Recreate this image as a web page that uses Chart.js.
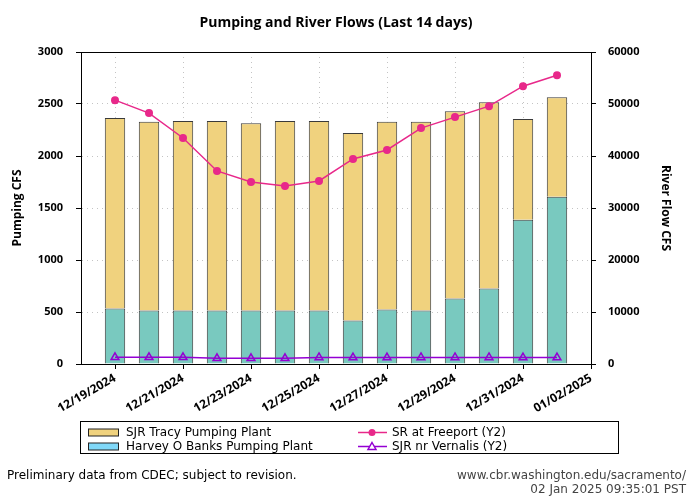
<!DOCTYPE html>
<html>
<head>
<meta charset="utf-8">
<script src="https://cdn.jsdelivr.net/npm/chart.js@4"></script>
<style>
  html, body { margin: 0; padding: 0; background: #fff; }
  #wrap { width: 700px; height: 500px; }
</style>
</head>
<body>
<div id="wrap"><canvas id="chartPump" width="700" height="500"></canvas></div>
<script>
// bar days, 12/19/2024 .. 01/01/2025 (x = day number from 12/18)
const days = [1, 2, 3, 4, 5, 6, 7, 8, 9, 10, 11, 12, 13, 14];
const tickDays = [1, 3, 5, 7, 9, 11, 13, 15];
const tickLabels = ['12/19/2024', '12/21/2024', '12/23/2024', '12/25/2024', '12/27/2024', '12/29/2024', '12/31/2024', '01/02/2025'];

// pumping, CFS
const banks = [534, 514, 514, 514, 514, 514, 514, 419, 524, 514, 630, 725, 1387, 1607];
const tracy = [1831, 1815, 1822, 1822, 1802, 1822, 1822, 1802, 1805, 1815, 1801, 1793, 968, 959];

// river flows, CFS (Y2)
const freeport = [50740, 48250, 43460, 37130, 35020, 34250, 35210, 39430, 41160, 45370, 47480, 49590, 53430, 55540];
const vernalis = [1280, 1290, 1280, 1100, 1090, 1100, 1270, 1250, 1250, 1260, 1260, 1260, 1240, 1240];

(function () {
  const TRACY = '#f0d27e';
  const BANKS = '#79c9bf';
  const BANKS_KEY = '#80d8f8';
  const PINK = '#e8288a';
  const PURPLE = '#9400d3';
  const EDGE = '#3a3a3a';
  const GRID = '#c4c4c4';

  Chart.defaults.font.family = '"Open Sans", sans-serif';
  Chart.defaults.color = '#000';

  const pts = (vals) => vals.map((v, i) => ({ x: days[i], y: v }));
  const plain = (v) => String(v);

  // frame, title, boxed legend and footer notes
  const extras = {
    id: 'extras',
    afterDraw(chart) {
      const ctx = chart.ctx;
      const a = chart.chartArea;
      ctx.save();
      ctx.strokeStyle = '#000';
      ctx.lineWidth = 1;
      ctx.beginPath();
      ctx.moveTo(a.left, Math.round(a.top) + 0.5);
      ctx.lineTo(a.right, Math.round(a.top) + 0.5);
      ctx.stroke();

      ctx.fillStyle = '#000';
      ctx.font = 'bold 14px "Open Sans", sans-serif';
      ctx.textAlign = 'center';
      ctx.textBaseline = 'middle';
      ctx.fillText('Pumping and River Flows (Last 14 days)', (a.left + a.right) / 2, 23);

      // legend box
      ctx.strokeRect(80.5, 421.5, 538, 32);
      ctx.font = '12px "DejaVu Sans", sans-serif';
      ctx.textAlign = 'left';
      const ds = chart.data.datasets;
      const rows = [432.5, 446.5];
      const swatch = (y, fill) => {
        ctx.fillStyle = fill;
        ctx.fillRect(88.5, y - 3.5, 30, 7);
        ctx.strokeStyle = '#222';
        ctx.strokeRect(88.5, y - 3.5, 30, 7);
      };
      swatch(rows[0], TRACY);
      swatch(rows[1], BANKS_KEY);
      ctx.fillStyle = '#000';
      ctx.fillText(ds[1].label, 126, rows[0]);
      ctx.fillText(ds[0].label, 126, rows[1]);

      ctx.lineWidth = 1.5;
      ctx.strokeStyle = PINK;
      ctx.beginPath(); ctx.moveTo(358, rows[0]); ctx.lineTo(387, rows[0]); ctx.stroke();
      ctx.fillStyle = PINK;
      ctx.beginPath(); ctx.arc(372, rows[0], 3.5, 0, Math.PI * 2); ctx.fill();
      ctx.strokeStyle = PURPLE;
      ctx.beginPath(); ctx.moveTo(358, rows[1]); ctx.lineTo(387, rows[1]); ctx.stroke();
      ctx.fillStyle = '#fff';
      ctx.beginPath();
      ctx.moveTo(372, rows[1] - 4); ctx.lineTo(376, rows[1] + 3); ctx.lineTo(368, rows[1] + 3); ctx.closePath();
      ctx.fill(); ctx.stroke();
      ctx.fillStyle = '#000';
      ctx.fillText(ds[2].label, 392, rows[0]);
      ctx.fillText(ds[3].label, 392, rows[1]);

      // footer
      ctx.fillText('Preliminary data from CDEC; subject to revision.', 7, 475.5);
      ctx.textAlign = 'right';
      ctx.fillStyle = '#444';
      ctx.fillText('www.cbr.washington.edu/sacramento/', 686, 475.5);
      ctx.fillText('02 Jan 2025 09:35:01 PST', 686, 489.5);
      ctx.restore();
    }
  };

  new Chart(document.getElementById('chartPump'), {
    data: {
      datasets: [
        {
          type: 'bar', label: 'Harvey O Banks Pumping Plant', data: pts(banks), yAxisID: 'y', stack: 'pump',
          backgroundColor: BANKS, borderColor: EDGE, borderWidth: 1, order: 2,
          barPercentage: 0.6, categoryPercentage: 1
        },
        {
          type: 'bar', label: 'SJR Tracy Pumping Plant', data: pts(tracy), yAxisID: 'y', stack: 'pump',
          backgroundColor: TRACY, borderColor: EDGE, borderWidth: 1, order: 2,
          barPercentage: 0.6, categoryPercentage: 1
        },
        {
          type: 'line', label: 'SR at Freeport (Y2)', data: pts(freeport), yAxisID: 'y2',
          borderColor: PINK, backgroundColor: PINK, borderWidth: 1.5, pointRadius: 4,
          pointBackgroundColor: PINK, pointBorderWidth: 0, order: 0
        },
        {
          type: 'line', label: 'SJR nr Vernalis (Y2)', data: pts(vernalis), yAxisID: 'y2',
          borderColor: PURPLE, backgroundColor: 'rgba(0,0,0,0)', borderWidth: 1.5, pointRadius: 4.5,
          pointStyle: 'triangle', pointBorderColor: PURPLE, pointBackgroundColor: 'rgba(0,0,0,0)',
          pointBorderWidth: 1.5, order: 1
        }
      ]
    },
    plugins: [extras],
    options: {
      responsive: false,
      animation: false,
      layout: { padding: { top: 52, bottom: 86, left: 0, right: 0 } },
      plugins: { legend: { display: false }, tooltip: { enabled: false }, title: { display: false } },
      scales: {
        x: {
          type: 'linear', min: 0, max: 15, stacked: true, offset: false,
          afterBuildTicks: (s) => { s.ticks = tickDays.map((v) => ({ value: v })); },
          afterFit: (s) => { s.height = 50; },
          ticks: {
            autoSkip: false, maxRotation: 30, minRotation: 30, padding: 2,
            font: { weight: 'bold', size: 12 },
            callback: (v) => tickLabels[tickDays.indexOf(v)]
          },
          grid: { offset: false, color: GRID, tickColor: '#000', tickLength: 5, tickBorderDash: [] },
          border: { color: '#000', dash: [1, 4] }
        },
        y: {
          position: 'left', min: 0, max: 3000, stacked: true,
          afterFit: (s) => { s.width = 81; },
          ticks: { stepSize: 500, padding: 13, font: { weight: 'bold', size: 11 }, callback: plain },
          grid: { color: GRID, tickColor: '#000', tickLength: 5, tickBorderDash: [] },
          border: { color: '#000', dash: [1, 4] },
          title: { display: true, text: 'Pumping CFS', font: { weight: 'bold', size: 12 }, padding: { top: 10 } }
        },
        y2: {
          position: 'right', min: 0, max: 60000,
          afterFit: (s) => { s.width = 109; },
          ticks: { stepSize: 10000, padding: 12, font: { weight: 'bold', size: 11 }, callback: plain },
          grid: { drawOnChartArea: false, tickColor: '#000', tickLength: 5, tickBorderDash: [] },
          border: { color: '#000' },
          title: { display: true, text: 'River Flow CFS', font: { weight: 'bold', size: 12 }, padding: { top: 27 } }
        }
      }
    }
  });
})();
</script>
</body>
</html>
